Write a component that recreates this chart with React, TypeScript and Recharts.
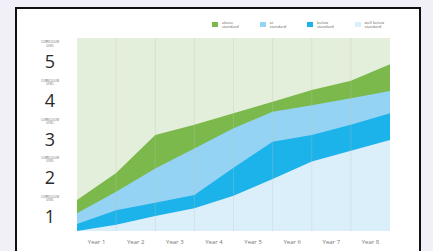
import { AreaChart, Area, XAxis, YAxis, CartesianGrid, ReferenceLine } from 'recharts';

// column boundaries (year columns run between them)
const boundaries = [0, 1, 2, 3, 4, 5, 6, 7, 8];
const years = ['Year 1', 'Year 2', 'Year 3', 'Year 4', 'Year 5', 'Year 6', 'Year 7', 'Year 8'];
const levels = [1, 2, 3, 4, 5];

// top edge of each band, in curriculum levels
const aboveStandard = [1.3, 2.0, 2.99, 3.25, 3.55, 3.85, 4.15, 4.39, 4.82];
const atStandard = [0.96, 1.52, 2.12, 2.64, 3.16, 3.59, 3.76, 3.94, 4.13];
const belowStandard = [0.68, 1.04, 1.23, 1.43, 2.14, 2.81, 2.99, 3.25, 3.55];
const wellBelowStandard = [0.5, 0.66, 0.89, 1.09, 1.41, 1.85, 2.3, 2.58, 2.86];

const legendItems = [
  { name: 'above', sub: 'standard', color: '#7cb94c' },
  { name: 'at', sub: 'standard', color: '#94d3f3' },
  { name: 'below', sub: 'standard', color: '#1cb2ea' },
  { name: 'well below', sub: 'standard', color: '#dbeffb' },
];

const data = boundaries.map((x, i) => ({
  x,
  above: aboveStandard[i],
  at: atStandard[i],
  below: belowStandard[i],
  wellBelow: wellBelowStandard[i],
}));

const LevelTick = ({ x, y, payload }: any) => (
  <g transform={`translate(${x - 19},${y})`}>
    <text x={0} y={-14} textAnchor="middle" fontSize={2.8} fill="#666">CURRICULUM</text>
    <text x={0} y={-10.8} textAnchor="middle" fontSize={2.8} fill="#666">LEVEL</text>
    <text x={0} y={11} textAnchor="middle" fontSize={18} fill="#2a2a2a" fontFamily="Open Sans">
      {payload.value}
    </text>
  </g>
);

const YearTick = ({ x, y, payload }: any) => (
  <g transform={`translate(${x},${y})`}>
    <text x={0} y={5} textAnchor="middle" fontSize={6} fill="#777">
      {years[Math.floor(payload.value)]}
    </text>
  </g>
);

export default function App() {
  return (
    <div style={{ position: 'fixed', left: 0, top: 0, width: 433, height: 251, overflow: 'hidden', background: '#f1f0f8', fontFamily: 'Open Sans' }}>
      <div style={{ position: 'absolute', left: 15, top: 7, width: 402, height: 260, background: '#fff', border: '2px solid #111' }} />
      {/* legend */}
      {legendItems.map((item, i) => (
        <div key={item.name} style={{ position: 'absolute', left: 212 + i * 47.5, top: 21, display: 'flex' }}>
          <div style={{ width: 6, height: 5, background: item.color, marginTop: 1 }} />
          <div style={{ marginLeft: 4, fontSize: 4, lineHeight: '4px', color: '#666' }}>
            <div>{item.name}</div>
            <div>{item.sub}</div>
          </div>
        </div>
      ))}
      <div style={{ position: 'absolute', left: 0, top: 0 }}>
        <AreaChart width={433} height={251} data={data} margin={{ top: 38, right: 43, left: 47, bottom: 0 }}>
          <CartesianGrid horizontal={false} vertical={false} fill="#e4efdb" />
          <XAxis
            type="number"
            dataKey="x"
            domain={[0, 8]}
            ticks={[0.5, 1.5, 2.5, 3.5, 4.5, 5.5, 6.5, 7.5]}
            interval={0}
            axisLine={false}
            tickLine={false}
            height={20}
            tick={<YearTick />}
          />
          <YAxis
            type="number"
            domain={[0.5, 5.5]}
            ticks={levels}
            interval={0}
            axisLine={false}
            tickLine={false}
            width={30}
            tick={<LevelTick />}
          />
          <Area type="linear" dataKey="above" stroke="none" fill="#7cb94c" fillOpacity={1} isAnimationActive={false} />
          <Area type="linear" dataKey="at" stroke="none" fill="#94d3f3" fillOpacity={1} isAnimationActive={false} />
          <Area type="linear" dataKey="below" stroke="none" fill="#1cb2ea" fillOpacity={1} isAnimationActive={false} />
          <Area type="linear" dataKey="wellBelow" stroke="none" fill="#dbeffb" fillOpacity={1} isAnimationActive={false} />
          {boundaries.slice(1, -1).map((b) => (
            <ReferenceLine key={b} x={b} stroke="#b9c7b4" strokeOpacity={0.3} />
          ))}
        </AreaChart>
      </div>
    </div>
  );
}
